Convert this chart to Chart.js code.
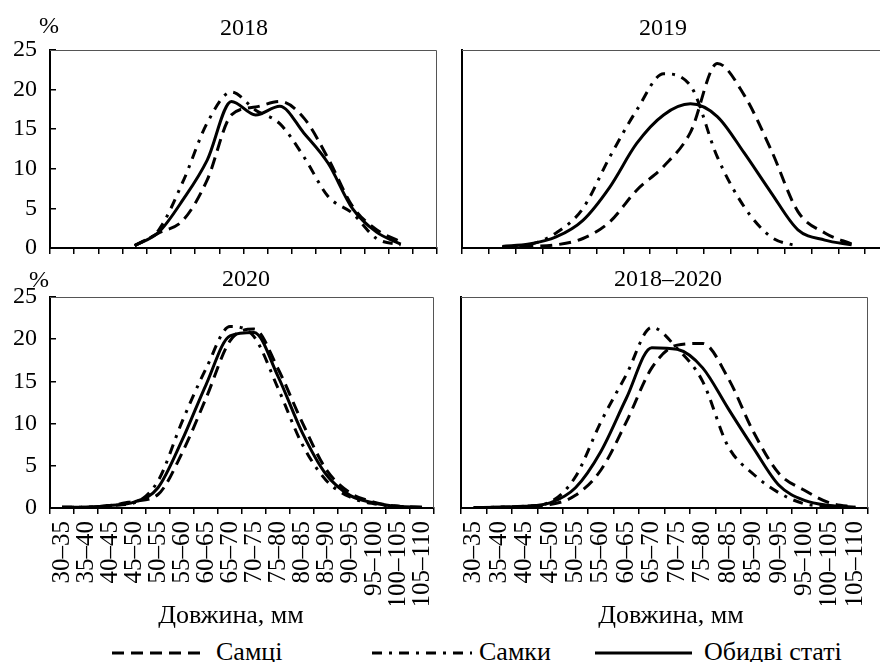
<!DOCTYPE html>
<html lang="uk">
<head>
<meta charset="utf-8">
<title>Розподіл за довжиною</title>
<script src="https://cdn.jsdelivr.net/npm/chart.js@4.4.1/dist/chart.umd.min.js"></script>
<style>
    html, body {
        margin: 0;
        padding: 0;
        width: 880px;
        height: 662px;
        overflow: hidden;
        background: #fff;
        font-family: 'Liberation Serif', 'Times New Roman', serif;
        color: #000;
    }
    canvas {
        position: absolute;
    }
    .lbl {
        position: absolute;
        line-height: 1;
        white-space: nowrap;
    }
    .mid {
        transform: translateX(-50%);
    }
    #legend svg {
        position: absolute;
    }
</style>
</head>
<body>
<canvas id="chart2018" width="440" height="230" style="left:0;top:30px"></canvas>
<canvas id="chart2019" width="470" height="230" style="left:440px;top:30px"></canvas>
<canvas id="chart2020" width="440" height="325" style="left:0;top:280px"></canvas>
<canvas id="chartAll" width="440" height="325" style="left:440px;top:280px"></canvas>

<div class="lbl mid" style="left:49px;top:13px;font-size:24px">%</div>
<div class="lbl mid" style="left:39px;top:267px;font-size:24px">%</div>
<div class="lbl mid" style="left:244px;top:15px;font-size:24px">2018</div>
<div class="lbl mid" style="left:663px;top:15px;font-size:24px">2019</div>
<div class="lbl mid" style="left:246px;top:266px;font-size:24px">2020</div>
<div class="lbl mid" style="left:668px;top:266px;font-size:24px">2018–2020</div>
<div class="lbl mid" style="left:231px;top:602px;font-size:26px">Довжина, мм</div>
<div class="lbl mid" style="left:671px;top:602px;font-size:26px">Довжина, мм</div>

<div id="legend">
    <svg width="100" height="10" style="left:108px;top:648px">
        <line x1="4" y1="5" x2="95" y2="5" stroke="#000" stroke-width="3" stroke-dasharray="12 7"></line>
    </svg>
    <div class="lbl" style="left:216px;top:639px;font-size:26px">Самці</div>
    <svg width="110" height="10" style="left:368px;top:648px">
        <line x1="4" y1="5" x2="104" y2="5" stroke="#000" stroke-width="3" stroke-dasharray="10 7 3 7"></line>
    </svg>
    <div class="lbl" style="left:479px;top:639px;font-size:26px">Самки</div>
    <svg width="105" height="10" style="left:591px;top:648px">
        <line x1="4" y1="5" x2="101" y2="5" stroke="#000" stroke-width="3"></line>
    </svg>
    <div class="lbl" style="left:704px;top:639px;font-size:26px">Обидві статі</div>
</div>

<script>
// Length classes, mm
const lengthClasses = ['30–35', '35–40', '40–45', '45–50', '50–55', '55–60', '60–65', '65–70',
    '70–75', '75–80', '80–85', '85–90', '90–95', '95–100', '100–105', '105–110'];

// Share of fish in each class, %
const males2018 = [null, null, null, 0.3, 1.9, 3.5, 8.6, 16.8, 17.8, 18.5, 16.4, 11.3, 5.3, 2.3, 0.8, null];
const females2018 = [null, null, null, 0.3, 2.3, 8.4, 15.8, 19.7, 17.4, 15.7, 11.5, 6.5, 4.4, 1.2, 0.4, null];
const both2018 = [null, null, null, 0.3, 2.0, 6.1, 11.1, 18.5, 16.8, 17.9, 14.5, 10.7, 5.0, 2.0, 0.5, null];

const males2019 = [null, 0.1, 0.2, 0.4, 1.2, 3.3, 7.3, 10.3, 14.6, 23.3, 19.3, 12.4, 4.6, 1.9, 0.5, null];
const females2019 = [null, 0.1, 0.4, 1.9, 5.0, 11.5, 17.4, 22.0, 20.5, 11.5, 5.2, 1.4, 0.2, null, null, null];
const both2019 = [null, 0.2, 0.5, 1.4, 3.5, 7.7, 13.2, 16.8, 18.2, 16.6, 12.0, 7.0, 2.3, 1.0, 0.4, null];

const males2020 = [0.1, 0.1, 0.3, 0.8, 1.6, 6.5, 13.0, 19.8, 21.2, 16.5, 10.2, 4.6, 1.8, 0.7, 0.2, 0.1];
const females2020 = [0.1, 0.1, 0.3, 0.6, 3.2, 10.2, 16.5, 21.5, 20.3, 14.2, 7.6, 3.3, 1.3, 0.5, 0.2, 0.0];
const both2020 = [0.1, 0.1, 0.3, 0.7, 2.4, 8.0, 14.6, 20.4, 20.8, 15.6, 9.0, 4.0, 1.5, 0.6, 0.2, 0.1];

const malesAll = [0.05, 0.1, 0.2, 0.4, 1.5, 4.5, 10.2, 16.6, 19.3, 19.5, 15.4, 9.0, 4.1, 2.1, 0.6, 0.1];
const femalesAll = [0.05, 0.1, 0.2, 0.7, 3.7, 10.2, 15.8, 21.4, 18.9, 15.0, 7.3, 4.0, 1.8, 0.5, 0.2, 0.05];
const bothAll = [0.05, 0.1, 0.2, 0.6, 2.4, 6.7, 13.0, 19.0, 18.8, 16.6, 11.8, 7.1, 2.7, 0.9, 0.3, 0.1];

const yMax = 25;
const yStep = 5;

Chart.defaults.font.family = "'Liberation Serif', 'Times New Roman', serif";
Chart.defaults.color = '#000';

// thin top and right edges of the plot box
const frameLines = {
    id: 'frameLines',
    beforeDatasetsDraw(chart) {
        const { ctx, chartArea } = chart;
        ctx.save();
        ctx.strokeStyle = '#555';
        ctx.lineWidth = 1;
        ctx.beginPath();
        ctx.moveTo(chartArea.left, chartArea.top + 0.5);
        ctx.lineTo(chartArea.right - 0.5, chartArea.top + 0.5);
        ctx.lineTo(chartArea.right - 0.5, chartArea.bottom);
        ctx.stroke();
        ctx.restore();
    }
};

function makePanel(id, males, females, both, opt) {
    const ctx = document.getElementById(id).getContext('2d');
    const line = {
        borderColor: '#000',
        borderWidth: 3,
        borderCapStyle: 'butt',
        pointRadius: 0,
        fill: false,
        cubicInterpolationMode: 'monotone'
    };
    return new Chart(ctx, {
        type: 'line',
        data: {
            labels: lengthClasses,
            datasets: [
                Object.assign({ label: 'Самці', data: males, borderDash: [12, 7] }, line),
                Object.assign({ label: 'Самки', data: females, borderDash: [10, 7, 3, 7] }, line),
                Object.assign({ label: 'Обидві статі', data: both }, line)
            ]
        },
        options: {
            responsive: false,
            animation: false,
            events: [],
            layout: { padding: opt.padding, autoPadding: false },
            plugins: {
                legend: { display: false },
                tooltip: { enabled: false }
            },
            scales: {
                x: {
                    offset: true,
                    grid: { offset: true, drawOnChartArea: false, tickLength: 6, color: '#000', lineWidth: 1.5 },
                    border: { color: '#000', width: 2 },
                    ticks: {
                        display: opt.xLabels,
                        autoSkip: false,
                        minRotation: 90,
                        maxRotation: 90,
                        padding: 7,
                        font: { size: 25 }
                    },
                    afterFit: s => {
                        s.height = opt.xHeight;
                        s.paddingLeft = 0;
                        s.paddingRight = 0;
                    }
                },
                y: {
                    min: 0,
                    max: yMax,
                    grid: { drawOnChartArea: false, drawTicks: opt.yLabels, tickLength: -6, color: '#000', lineWidth: 1.5 },
                    border: { color: '#000', width: 2 },
                    ticks: {
                        display: opt.yLabels,
                        stepSize: yStep,
                        padding: 19,
                        font: { size: 24 }
                    },
                    // plot box is placed by hand: fixed width, no room kept for the end labels
                    afterFit: s => {
                        s.width = opt.yWidth;
                        s.paddingTop = 0;
                        s.paddingBottom = 0;
                    }
                }
            }
        },
        plugins: [frameLines]
    });
}

document.addEventListener('DOMContentLoaded', function() {
    makePanel('chart2018', males2018, females2018, both2018,
        { padding: { top: 20, right: 3, bottom: 0, left: 0 }, xLabels: false, yLabels: true, xHeight: 12, yWidth: 50 });
    makePanel('chart2019', males2019, females2019, both2019,
        { padding: { top: 20, right: 18, bottom: 0, left: 0 }, xLabels: false, yLabels: false, xHeight: 12, yWidth: 22 });
    makePanel('chart2020', males2020, females2020, both2020,
        { padding: { top: 17, right: 6, bottom: 0, left: 0 }, xLabels: true, yLabels: true, xHeight: 97, yWidth: 50 });
    makePanel('chartAll', malesAll, femalesAll, bothAll,
        { padding: { top: 17, right: 12, bottom: 0, left: 0 }, xLabels: true, yLabels: false, xHeight: 97, yWidth: 21 });
});
</script>
</body>
</html>
